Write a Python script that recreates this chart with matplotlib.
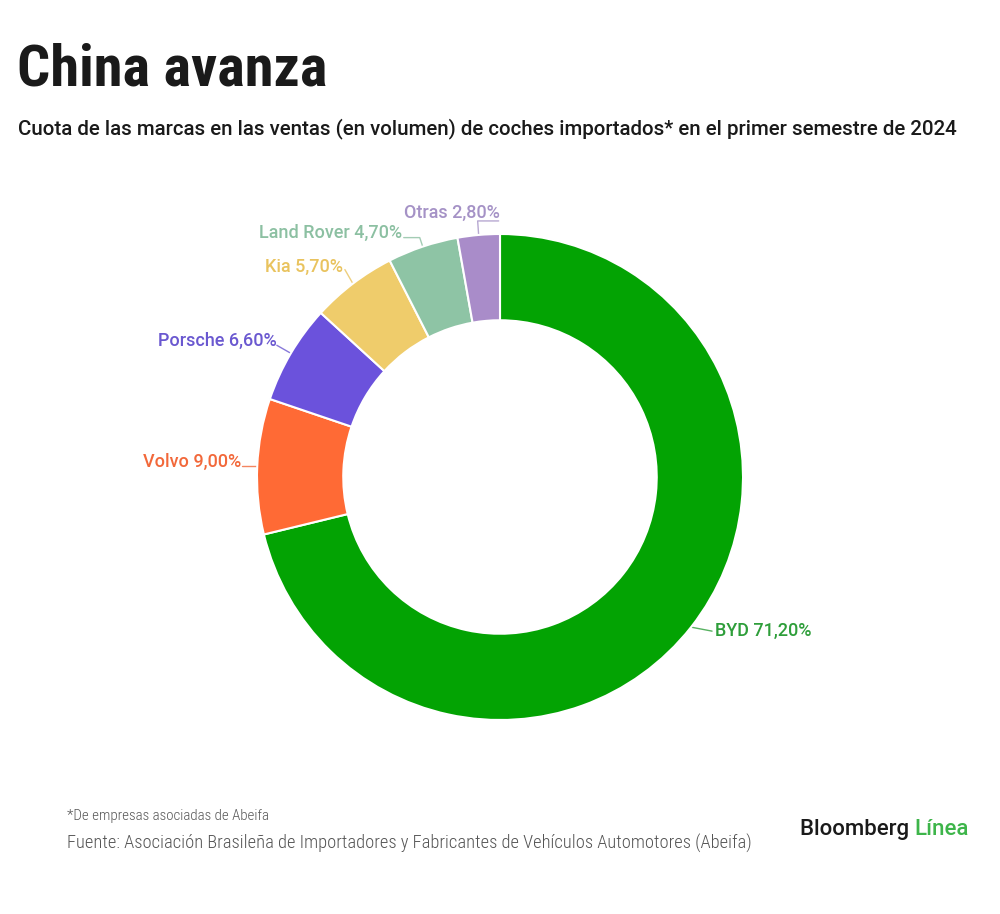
import matplotlib
matplotlib.use("Agg")
import matplotlib.pyplot as plt
import numpy as np

# ---- data ----
brands = ["BYD", "Volvo", "Porsche", "Kia", "Land Rover", "Otras"]
shares = [71.2, 9.0, 6.6, 5.7, 4.7, 2.8]
colors = ["#03A303", "#FF6A35", "#6B52DC", "#EFCC6B", "#8EC4A5", "#A98CC9"]
label_colors = ["#2E9E3A", "#F2683A", "#6A58D0", "#E9C35E", "#8CC0A2", "#A592C6"]

title = "China avanza"
subtitle = "Cuota de las marcas en las ventas (en volumen) de coches importados* en el primer semestre de 2024"
note = "*De empresas asociadas de Abeifa"
source = "Fuente: Asociación Brasileña de Importadores y Fabricantes de Vehículos Automotores (Abeifa)"

W, H = 1000, 914
fig = plt.figure(figsize=(W / 100, H / 100), dpi=100)
fig.patch.set_facecolor("white")
ax = fig.add_axes([0, 0, 1, 1])
ax.set_xlim(0, W)
ax.set_ylim(H, 0)
ax.axis("off")

cx, cy, R = 500, 477, 243
dax = fig.add_axes([0, 0, 1, 1])
wedges, _ = dax.pie(shares, colors=colors, startangle=90, counterclock=False,
                    radius=R, center=(cx, H - cy), frame=True,
                    wedgeprops=dict(width=R * 0.355, edgecolor="white", linewidth=1.5))
dax.set_xlim(0, W)
dax.set_ylim(0, H)
dax.axis("off")

label_font = ["Roboto", "DejaVu Sans"]
# leader geometry (pixel offsets) per label: points relative to anchor, text offset, alignment
leaders = {
    "BYD": ([(21, 4)], (3, 5), "left"),
    "Volvo": ([(-15, 0)], (-1, 1), "right"),
    "Porsche": ([(-14, -8)], (0, 1), "right"),
    "Kia": ([(-8, -14)], (-2, 2), "right"),
    "Land Rover": ([(-3, -9), (-19, -9)], (-2, 0), "right"),
    "Otras": ([(-1, -14), (20, -14)], (1, -3), "right"),
}

cum = 0.0
total = sum(shares)
for name, val, lc in zip(brands, shares, label_colors):
    mid = (cum + val / 2) / total * 360.0
    cum += val
    th = np.deg2rad(mid)
    ax0 = cx + R * np.sin(th)
    ay0 = cy - R * np.cos(th)
    pts, toff, ha = leaders[name]
    xs = [ax0] + [ax0 + p[0] for p in pts]
    ys = [ay0] + [ay0 + p[1] for p in pts]
    ax.plot(xs, ys, color=lc, lw=1.0, alpha=0.8, solid_capstyle="round")
    txt = f"{name} {val:.2f}".replace(".", ",") + "%"
    ax.text(xs[-1] + toff[0], ys[-1] + toff[1], txt, color=lc, ha=ha, va="baseline",
            fontsize=13, fontweight="medium", family=label_font)

narrow = ["Roboto Condensed", "Roboto", "DejaVu Sans"]
ax.text(17, 86, title, fontsize=42, fontweight="bold", family=narrow, color="#1a1a1a",
        va="baseline", ha="left")
ax.text(18, 134, subtitle, fontsize=14.8, fontweight="medium", family=["Roboto", "DejaVu Sans"],
        color="#1a1a1a", va="baseline", ha="left")
ax.text(67, 820, note, fontsize=10.7, fontweight="light", family=narrow, color="#555555",
        va="baseline", ha="left")
ax.text(67, 849, source, fontsize=13.3, fontweight="light", family=narrow, color="#555555",
        va="baseline", ha="left")

t1 = ax.text(800, 835, "Bloomberg ", fontsize=16, fontweight="medium", family=["Roboto", "DejaVu Sans"],
             color="#1a1a1a", va="baseline", ha="left")
fig.canvas.draw()
bb = t1.get_window_extent()
x_end = bb.x1 / fig.dpi * 100
ax.text(x_end, 835, "Línea", fontsize=16, fontweight="medium", family=["Roboto", "DejaVu Sans"],
        color="#3DB54A", va="baseline", ha="left")

fig.savefig("out.png", dpi=100, facecolor="white")
